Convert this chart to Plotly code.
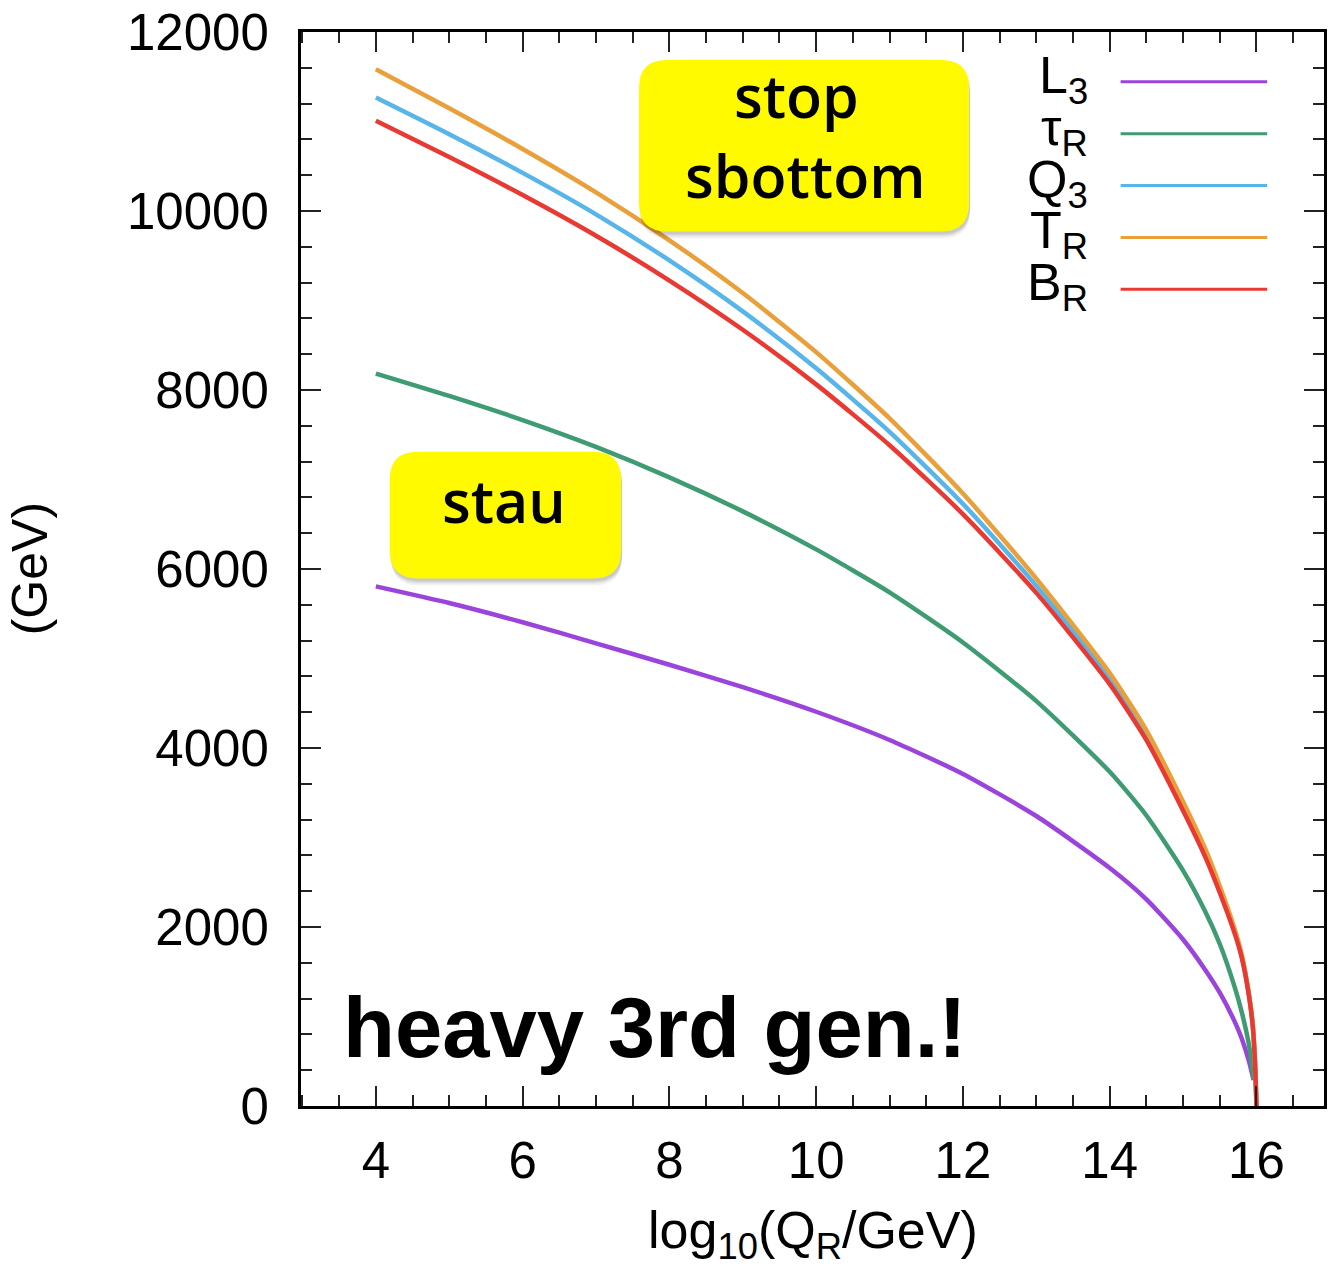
import plotly.graph_objects as go

# ---------------- data ----------------
x_sq = [4, 5, 6, 7, 8, 9, 10, 11, 12, 13, 14, 14.5, 15, 15.3, 15.5, 15.7, 15.8, 15.9, 15.95, 15.98, 16.0]
x_sl = [4, 5, 6, 7, 8, 9, 10, 11, 12, 13, 14, 14.5, 15, 15.3, 15.5, 15.7, 15.8, 15.9, 15.96]

L3 = [5806, 5620, 5405, 5170, 4930, 4680, 4405, 4090, 3710, 3240, 2660, 2310, 1860, 1523, 1266, 948, 751, 493, 290]
tauR = [8184, 7934, 7664, 7364, 7024, 6644, 6219, 5739, 5179, 4524, 3734, 3246, 2630, 2176, 1810, 1337, 1046, 673, 300]
Q3 = [11268, 10858, 10426, 9963, 9448, 8878, 8243, 7533, 6728, 5813, 4778, 4148, 3355, 2837, 2423, 1959, 1669, 1225, 890, 485, 0]
TR = [11583, 11148, 10693, 10208, 9673, 9083, 8423, 7683, 6843, 5893, 4838, 4198, 3400, 2877, 2458, 1984, 1689, 1237, 899, 490, 0]
BR = [11008, 10603, 10178, 9723, 9223, 8673, 8063, 7383, 6613, 5733, 4713, 4088, 3300, 2787, 2383, 1934, 1654, 1217, 884, 480, 0]

series_names = ["L<sub>3</sub>", "τ<sub>R</sub>", "Q<sub>3</sub>", "T<sub>R</sub>", "B<sub>R</sub>"]
series_x = [x_sl, x_sl, x_sq, x_sq, x_sq]
series_y = [L3, tauR, Q3, TR, BR]
colors = ["#9B44DB", "#3F9B72", "#57B5EA", "#E9A03B", "#E83A33"]

x_ticks = [4, 6, 8, 10, 12, 14, 16]
y_ticks = [0, 2000, 4000, 6000, 8000, 10000, 12000]

# ---------------- geometry ----------------
W, H = 1331, 1266
ML, MR, MT, MB = 301, 4, 29, 160
PW = W - ML - MR
PH = H - MT - MB


def PX(px):
    return (px - ML) / PW


def PY(py):
    return (H - MB - py) / PH


def rrect(x0, y0, x1, y1, r):
    p = []
    p.append(f"M {PX(x0 + r)},{PY(y0)}")
    p.append(f"L {PX(x1 - r)},{PY(y0)}")
    p.append(f"Q {PX(x1)},{PY(y0)} {PX(x1)},{PY(y0 + r)}")
    p.append(f"L {PX(x1)},{PY(y1 - r)}")
    p.append(f"Q {PX(x1)},{PY(y1)} {PX(x1 - r)},{PY(y1)}")
    p.append(f"L {PX(x0 + r)},{PY(y1)}")
    p.append(f"Q {PX(x0)},{PY(y1)} {PX(x0)},{PY(y1 - r)}")
    p.append(f"L {PX(x0)},{PY(y0 + r)}")
    p.append(f"Q {PX(x0)},{PY(y0)} {PX(x0 + r)},{PY(y0)} Z")
    return " ".join(p)


fig = go.Figure()
for nm, xs, ys, c in zip(series_names, series_x, series_y, colors):
    fig.add_trace(go.Scatter(x=xs, y=ys, mode="lines", name=nm,
                             line=dict(color=c, width=4.5, shape="spline", smoothing=0.6),
                             showlegend=False, hoverinfo="skip"))

FONT = "Liberation Sans, Arial, Helvetica, sans-serif"
tickfont = dict(family=FONT, size=51, color="black")

fig.update_layout(
    width=W, height=H,
    margin=dict(l=ML, r=MR, t=MT, b=MB),
    paper_bgcolor="white", plot_bgcolor="white",
    xaxis=dict(range=[2.98, 16.92], tickmode="array", tickvals=x_ticks,
               ticktext=[str(v) for v in x_ticks],
               ticks="inside", ticklen=20, tickwidth=2, tickcolor="#222",
               showline=True, linewidth=3, linecolor="black", mirror="allticks",
               showgrid=False, zeroline=False, tickfont=tickfont,
               ticklabelstandoff=8,
               minor=dict(tick0=4, dtick=0.5, ticks="inside", ticklen=11, tickwidth=2,
                          tickcolor="#222", showgrid=False)),
    yaxis=dict(range=[0, 12000], tickmode="array", tickvals=y_ticks,
               ticktext=[str(v) for v in y_ticks],
               ticks="inside", ticklen=20, tickwidth=2, tickcolor="#222",
               showline=True, linewidth=3, linecolor="black", mirror="allticks",
               showgrid=False, zeroline=False, tickfont=tickfont,
               ticklabelstandoff=19,
               minor=dict(tick0=0, dtick=400, ticks="inside", ticklen=11, tickwidth=2,
                          tickcolor="#222", showgrid=False)),
)

shapes = []
annotations = []

# axis titles
annotations.append(dict(xref="paper", yref="paper", x=PX(815), y=PY(1234),
                        text="log<sub>10</sub>(Q<sub>R</sub>/GeV)", showarrow=False,
                        xanchor="center", yanchor="middle",
                        font=dict(family=FONT, size=52, color="black")))
annotations.append(dict(xref="paper", yref="paper", x=PX(29), y=PY(567),
                        text="(GeV)", showarrow=False, textangle=-90,
                        xanchor="center", yanchor="middle",
                        font=dict(family=FONT, size=50, color="black")))

# legend (gnuplot style: label right-aligned, sample line to the right)
leg_y = [79, 131, 183, 235, 287]
for nm, c, ly in zip(series_names, colors, leg_y):
    shapes.append(dict(type="line", xref="paper", yref="paper",
                       x0=PX(1123), x1=PX(1270), y0=PY(ly), y1=PY(ly),
                       line=dict(color=c, width=3)))
    annotations.append(dict(xref="paper", yref="paper", x=PX(1092), y=PY(ly - 3),
                            text=nm, showarrow=False, xanchor="right", yanchor="middle",
                            font=dict(family=FONT, size=52, color="black")))

# yellow call-out boxes with soft shadow
boxes = [(640, 57, 971, 229), (390, 450, 622, 577)]
for (x0, y0, x1, y1) in boxes:
    for off, alpha in ((7, 0.05), (5, 0.07), (3, 0.10)):
        shapes.append(dict(type="path", xref="paper", yref="paper",
                           path=rrect(x0 + 1, y0 + off, x1 + 1, y1 + off, 28),
                           fillcolor=f"rgba(0,0,0,{alpha})", line=dict(width=0), layer="above"))
    shapes.append(dict(type="path", xref="paper", yref="paper",
                       path=rrect(x0, y0, x1, y1, 28),
                       fillcolor="#FFFA00", line=dict(width=0), layer="above"))

boxfont = dict(family="Open Sans, sans-serif", size=59, color="black", weight=600)
annotations.append(dict(xref="paper", yref="paper", x=PX(798), y=PY(92), text="stop",
                        showarrow=False, xanchor="center", yanchor="middle", font=boxfont))
annotations.append(dict(xref="paper", yref="paper", x=PX(806), y=PY(172), text="sbottom",
                        showarrow=False, xanchor="center", yanchor="middle", font=boxfont))
annotations.append(dict(xref="paper", yref="paper", x=PX(505), y=PY(498), text="stau",
                        showarrow=False, xanchor="center", yanchor="middle", font=boxfont))

annotations.append(dict(xref="paper", yref="paper", x=PX(341), y=PY(1027), text="heavy 3rd gen.!",
                        showarrow=False, xanchor="left", yanchor="middle",
                        font=dict(family=FONT, size=85, color="black", weight="bold")))

fig.update_layout(shapes=shapes, annotations=annotations)
fig.write_html("out.html")
